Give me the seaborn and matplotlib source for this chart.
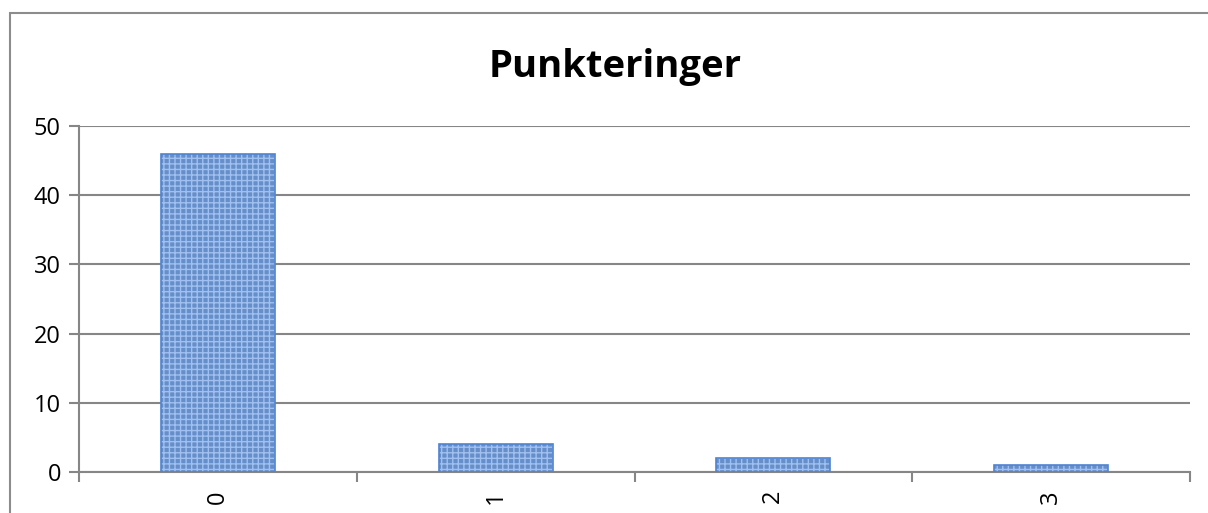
import matplotlib
matplotlib.use('Agg')
import matplotlib.pyplot as plt
import seaborn as sns
import pandas as pd
from matplotlib.patches import Rectangle
from matplotlib.ticker import FixedLocator

# data
categories = ['0', '1', '2', '3']
counts = [46, 4, 2, 1]

df = pd.DataFrame({'kategori': categories, 'antall': counts})

sns.set_theme(style='white')
plt.rcParams['font.family'] = ['Open Sans', 'DejaVu Sans']

fig = plt.figure(figsize=(12.08, 5.13), dpi=100)
ax = fig.add_axes([79 / 1208, 1 - 472 / 513, (1190 - 79) / 1208, (472 - 126) / 513])

sns.barplot(data=df, x='kategori', y='antall', ax=ax, color='#568bd8',
            width=0.41, linewidth=0, zorder=3)
for p in ax.patches:
    p.set_hatch('+++')
    p.set_edgecolor('#9fc0f0')
    p.set_linewidth(0)
    ax.add_patch(Rectangle(p.get_xy(), p.get_width(), p.get_height(),
                           fill=False, edgecolor='#4f84d2', linewidth=1.2, zorder=4))

ax.set_ylim(0, 50)
ax.set_xlim(-0.5, 3.5)
ax.set_yticks([0, 10, 20, 30, 40, 50])
ax.yaxis.grid(True, color='#868686', linewidth=1.5, zorder=0)
ax.set_axisbelow(True)

grey = '#868686'
for side in ['top', 'right']:
    ax.spines[side].set_visible(False)
ax.spines['left'].set_color(grey)
ax.spines['bottom'].set_color(grey)
ax.spines['left'].set_linewidth(1.5)
ax.spines['bottom'].set_linewidth(1.5)

ax.set_xlabel('')
ax.set_ylabel('')
ax.tick_params(axis='y', left=True, length=7, width=1.5, color=grey,
               labelsize=17, pad=6, labelcolor='black')
ax.tick_params(axis='x', which='major', bottom=False, labelsize=17,
               labelrotation=90, pad=7, labelcolor='black')
ax.xaxis.set_minor_locator(FixedLocator([-0.5, 0.5, 1.5, 2.5, 3.5]))
ax.tick_params(axis='x', which='minor', bottom=True, length=7, width=1.5, color=grey)

fig.text(615 / 1208, 1 - 67 / 513, 'Punkteringer', ha='center', va='center',
         fontsize=27.5, fontweight='bold', color='black')

# outer chart border (only top and left visible in the crop)
fig.patches.append(Rectangle((10 / 1208, -0.2), 1.2, 1.2 - 13 / 513,
                             transform=fig.transFigure, fill=False,
                             edgecolor='#8c8c8c', linewidth=1.5))

fig.savefig('out.png', dpi=100)
